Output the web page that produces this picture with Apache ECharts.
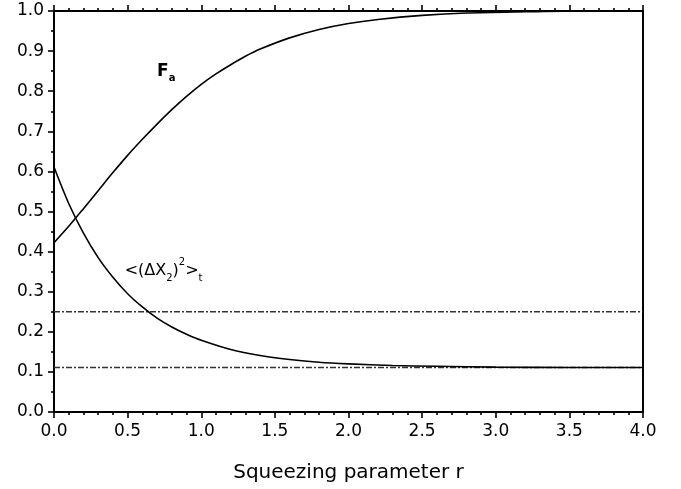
<!DOCTYPE html>
<html><head><meta charset="utf-8">
<script src="https://cdn.jsdelivr.net/npm/echarts@6/dist/echarts.min.js"></script>
<style>html,body{margin:0;padding:0;background:#fff}#c{width:681px;height:489px}</style>
</head><body><div id="c"></div><script>
// Squeezing parameter r (x) and curve values
const rFa   = [0.0, 0.1, 0.2, 0.3, 0.4, 0.5, 0.6, 0.7, 0.8, 0.9, 1.0, 1.1, 1.2, 1.3, 1.4, 1.6, 1.8, 2.0, 2.2, 2.5, 2.8, 3.2, 3.6, 4.0];
const Fa    = [0.422, 0.463, 0.507, 0.552, 0.597, 0.640, 0.680, 0.718, 0.754, 0.787, 0.817, 0.843, 0.866, 0.887, 0.905, 0.933, 0.954, 0.969, 0.979, 0.989, 0.995, 0.998, 1.0, 1.0];
const rVar  = [0.0, 0.1, 0.2, 0.3, 0.4, 0.5, 0.6, 0.7, 0.8, 0.9, 1.0, 1.2, 1.4, 1.6, 1.8, 2.0, 2.3, 2.6, 3.0, 3.5, 4.0];
const varX2 = [0.611, 0.520, 0.446, 0.385, 0.336, 0.295, 0.262, 0.234, 0.212, 0.194, 0.179, 0.156, 0.141, 0.131, 0.124, 0.120, 0.116, 0.114, 0.112, 0.111, 0.111];
// Horizontal dash-dot reference levels
const refLevels = [0.25, 0.111];
// Axis ranges / tick steps
const xRange = [0, 4], xStep = 0.5;
const yRange = [0, 1], yStep = 0.1;
const xTitle = 'Squeezing parameter r';

const FONT = 'DejaVu Sans';
const chart = echarts.init(document.getElementById('c'), null, {renderer: 'canvas'});

const pairs = (xs, ys) => xs.map((x, i) => [x, ys[i]]);
const axisLine = {show: true, onZero: false, lineStyle: {color: '#000', width: 2}};

const series = [
  {type: 'line', data: pairs(rFa, Fa), smooth: 0.3, showSymbol: false, symbol: 'none',
   lineStyle: {color: '#000', width: 1.6}, z: 5},
  {type: 'line', data: pairs(rVar, varX2), smooth: 0.3, showSymbol: false, symbol: 'none',
   lineStyle: {color: '#000', width: 1.6}, z: 5}
];
refLevels.forEach(v => {
  series.push({type: 'line', data: [[xRange[0], v], [xRange[1], v]], showSymbol: false, symbol: 'none',
    lineStyle: {color: '#333', width: 1.5, type: [6, 2, 2, 2]}, z: 3});
});
// Text annotations
const annoBase = {type: 'scatter', symbolSize: 0, z: 10, silent: true,
  itemStyle: {color: '#000', opacity: 1}, emphasis: {disabled: true}};
series.push(Object.assign({}, annoBase, {
  data: [[0.70, 0.85]],
  label: {show: true, position: 'right', distance: 0, color: '#000', opacity: 1, formatter: '{b|F}{s|a}',
    rich: {
      b: {fontFamily: FONT, fontSize: 17, fontWeight: 'bold', color: '#000', lineHeight: 24},
      s: {fontFamily: FONT, fontSize: 10, fontWeight: 'bold', color: '#000', lineHeight: 12, verticalAlign: 'bottom'}
    }}
}));
series.push(Object.assign({}, annoBase, {
  data: [[0.48, 0.352]],
  label: {show: true, position: 'right', distance: 0, color: '#000', opacity: 1,
    formatter: '{m|<(ΔX}{sb|2}{m|)}{sp|2}{m|>}{sb|t}',
    rich: {
      m: {fontFamily: FONT, fontSize: 16, color: '#000', lineHeight: 26},
      sb: {fontFamily: FONT, fontSize: 10, color: '#000', lineHeight: 12, verticalAlign: 'bottom'},
      sp: {fontFamily: FONT, fontSize: 10, color: '#000', lineHeight: 12, verticalAlign: 'top'}
    }}
}));

const tickStyle = {color: '#000', width: 1.6};
chart.setOption({
  animation: false,
  backgroundColor: '#fff',
  grid: {left: 54, right: 38, top: 11, bottom: 77, containLabel: false},
  xAxis: [
    {type: 'value', position: 'bottom', min: xRange[0], max: xRange[1], interval: xStep,
     axisLine, splitLine: {show: false},
     axisTick: {show: true, inside: false, length: 6, lineStyle: tickStyle},
     minorTick: {show: true, splitNumber: 5, length: 3, lineStyle: tickStyle},
     axisLabel: {color: '#000', fontFamily: FONT, fontSize: 17, margin: 11, formatter: v => v.toFixed(1)},
     name: xTitle, nameLocation: 'middle', nameGap: 51,
     nameTextStyle: {color: '#000', fontFamily: FONT, fontSize: 20}},
    {type: 'value', position: 'top', min: xRange[0], max: xRange[1], interval: xStep,
     axisLine, splitLine: {show: false},
     axisTick: {show: true, inside: false, length: 6, lineStyle: tickStyle},
     minorTick: {show: true, splitNumber: 5, length: 3, lineStyle: tickStyle},
     axisLabel: {show: false}}
  ],
  yAxis: [
    {type: 'value', position: 'left', min: yRange[0], max: yRange[1], interval: yStep,
     axisLine, splitLine: {show: false},
     axisTick: {show: true, inside: false, length: 6, lineStyle: tickStyle},
     minorTick: {show: true, splitNumber: 2, length: 3, lineStyle: tickStyle},
     axisLabel: {color: '#000', fontFamily: FONT, fontSize: 17, margin: 10, formatter: v => v.toFixed(1)}},
    {type: 'value', position: 'right', min: yRange[0], max: yRange[1], interval: yStep,
     axisLine, splitLine: {show: false}, axisTick: {show: false}, axisLabel: {show: false}}
  ],
  series
});
</script></body></html>
